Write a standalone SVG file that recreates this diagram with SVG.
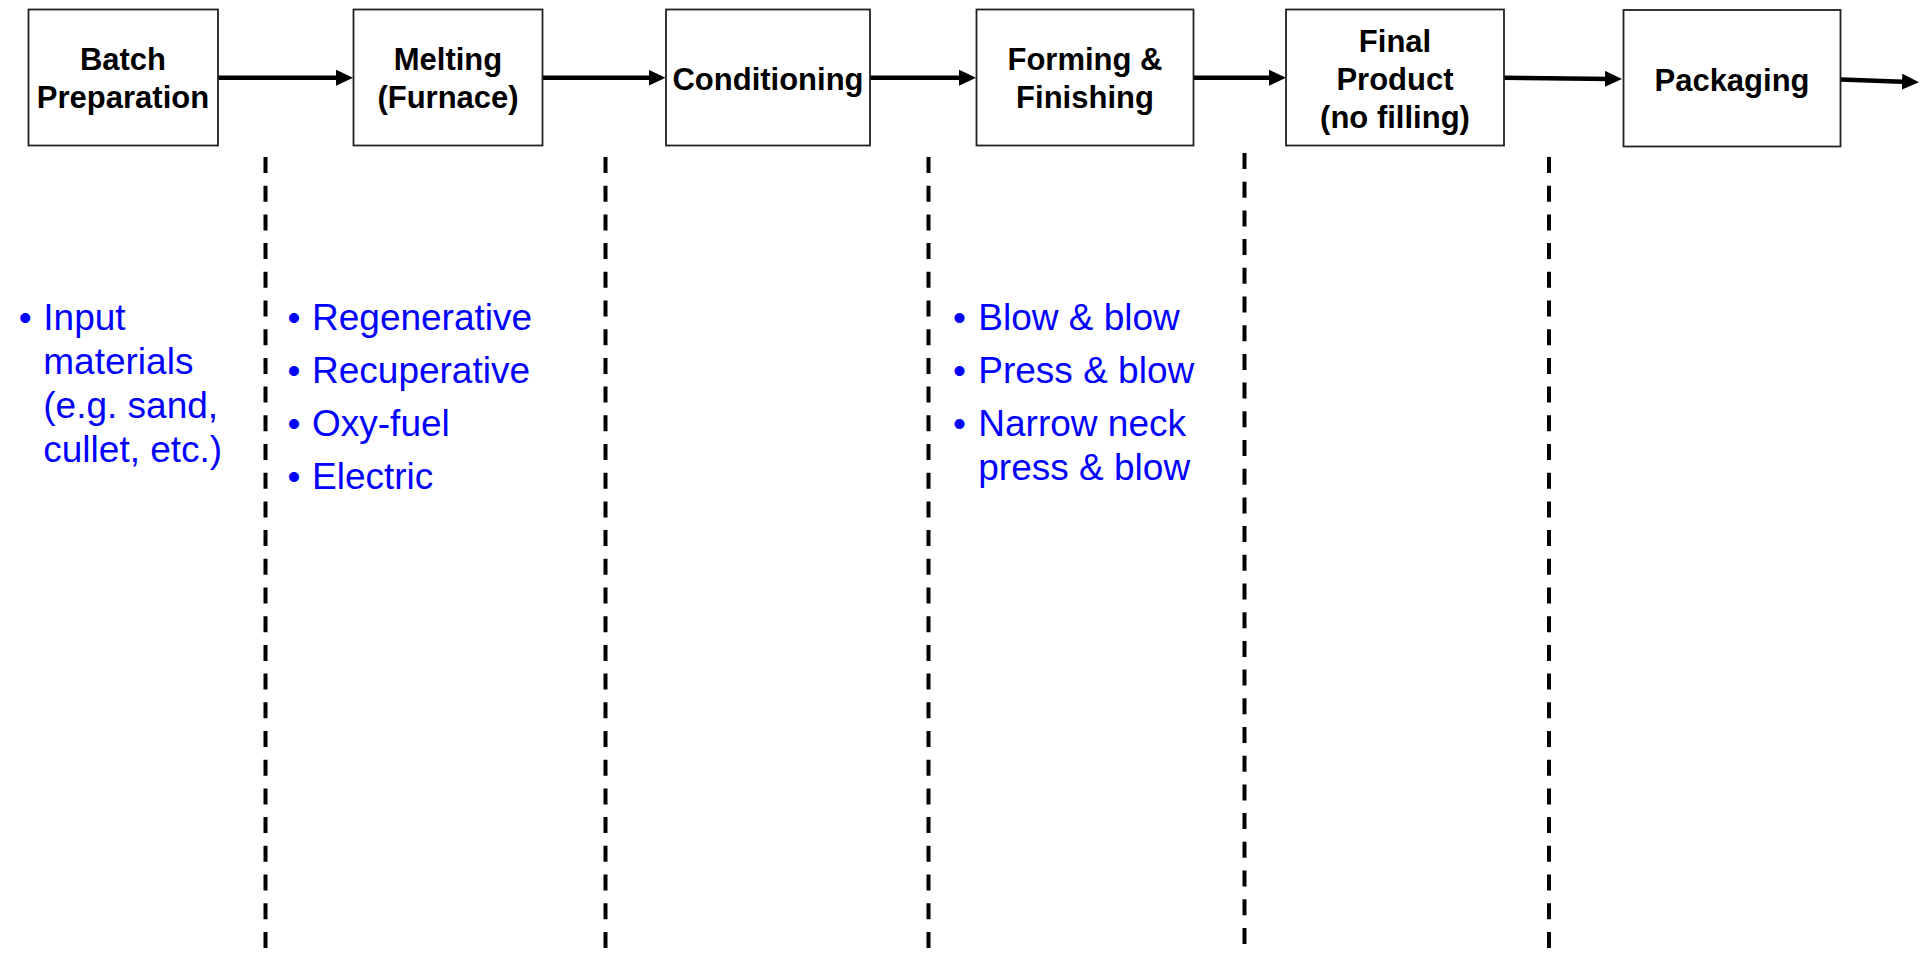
<svg xmlns="http://www.w3.org/2000/svg" width="1920" height="955" viewBox="0 0 1920 955">
  <style>
    .box { fill: #ffffff; stroke: #222222; stroke-width: 1.8; }
    .lbl { font-family: "Liberation Sans", Arial, sans-serif; font-weight: bold; font-size: 31px; fill: #000000; text-anchor: middle; }
    .flow { stroke: #000000; stroke-width: 4.5; fill: none; }
    .sep { stroke: #000000; stroke-width: 4; stroke-dasharray: 16 12.7; fill: none; }
    .note { font-family: "Liberation Sans", Arial, sans-serif; font-size: 37px; fill: #0000ff; }
    .dot { text-anchor: middle; }
  </style>
  <defs>
    <marker id="head" markerUnits="userSpaceOnUse" markerWidth="17" markerHeight="16" refX="7" refY="8" orient="auto">
      <path d="M0,0 L17,8 L0,16 Z" fill="#000000"/>
    </marker>
  </defs>
  <rect width="1920" height="955" fill="#ffffff"/>

  <!-- stage separators -->
  <g id="separators">
    <line class="sep" x1="265.5" y1="157" x2="265.5" y2="955"/>
    <line class="sep" x1="605.5" y1="157" x2="605.5" y2="955"/>
    <line class="sep" x1="928.5" y1="157" x2="928.5" y2="955"/>
    <line class="sep" x1="1244.5" y1="153" x2="1244.5" y2="955"/>
    <line class="sep" x1="1549" y1="157" x2="1549" y2="955"/>
  </g>

  <!-- process flow arrows -->
  <g id="connectors">
    <line class="flow" x1="218" y1="77.7" x2="343" y2="77.7" marker-end="url(#head)"/>
    <line class="flow" x1="542.7" y1="77.7" x2="655.5" y2="77.7" marker-end="url(#head)"/>
    <line class="flow" x1="870" y1="77.7" x2="966" y2="77.7" stroke-width="6.5" marker-end="url(#head)"/>
    <line class="flow" x1="1193.5" y1="77.7" x2="1276" y2="77.7" marker-end="url(#head)"/>
    <line class="flow" x1="1504" y1="77.7" x2="1612" y2="78.9" marker-end="url(#head)"/>
    <line class="flow" x1="1841" y1="79.5" x2="1909" y2="81.9" marker-end="url(#head)"/>
  </g>

  <g id="batch">
    <rect class="box" x="28.5" y="9.5" width="189.5" height="136"/>
    <text class="lbl" x="123" y="70">Batch</text>
    <text class="lbl" x="123" y="108">Preparation</text>
  </g>
  <g id="melting">
    <rect class="box" x="353.5" y="9.5" width="189" height="136"/>
    <text class="lbl" x="448" y="70">Melting</text>
    <text class="lbl" x="448" y="108">(Furnace)</text>
  </g>
  <g id="conditioning">
    <rect class="box" x="666" y="9.5" width="204" height="136"/>
    <text class="lbl" x="768" y="89.5">Conditioning</text>
  </g>
  <g id="forming">
    <rect class="box" x="976.5" y="9.5" width="217" height="136"/>
    <text class="lbl" x="1085" y="70">Forming &amp;</text>
    <text class="lbl" x="1085" y="108">Finishing</text>
  </g>
  <g id="final-product">
    <rect class="box" x="1286" y="9.5" width="218" height="136"/>
    <text class="lbl" x="1395" y="51.5">Final</text>
    <text class="lbl" x="1395" y="89.5">Product</text>
    <text class="lbl" x="1395" y="127.5">(no filling)</text>
  </g>
  <g id="packaging">
    <rect class="box" x="1623.5" y="10" width="217" height="136.5"/>
    <text class="lbl" x="1732" y="90.5">Packaging</text>
  </g>

  <!-- stage notes -->
  <g id="batch-notes" class="note">
    <text class="dot" x="25.3" y="330">•</text>
    <text x="43.3" y="330">Input</text>
    <text x="43.3" y="374">materials</text>
    <text x="43.3" y="418">(e.g. sand,</text>
    <text x="43.3" y="462">cullet, etc.)</text>
  </g>
  <g id="furnace-notes" class="note">
    <text class="dot" x="294" y="330">•</text>
    <text x="312" y="330">Regenerative</text>
    <text class="dot" x="294" y="383">•</text>
    <text x="312" y="383">Recuperative</text>
    <text class="dot" x="294" y="436">•</text>
    <text x="312" y="436">Oxy-fuel</text>
    <text class="dot" x="294" y="489">•</text>
    <text x="312" y="489">Electric</text>
  </g>
  <g id="forming-notes" class="note">
    <text class="dot" x="959.5" y="330">•</text>
    <text x="978.3" y="330">Blow &amp; blow</text>
    <text class="dot" x="959.5" y="383">•</text>
    <text x="978.3" y="383">Press &amp; blow</text>
    <text class="dot" x="959.5" y="436">•</text>
    <text x="978.3" y="436">Narrow neck</text>
    <text x="978.3" y="480">press &amp; blow</text>
  </g>
</svg>
